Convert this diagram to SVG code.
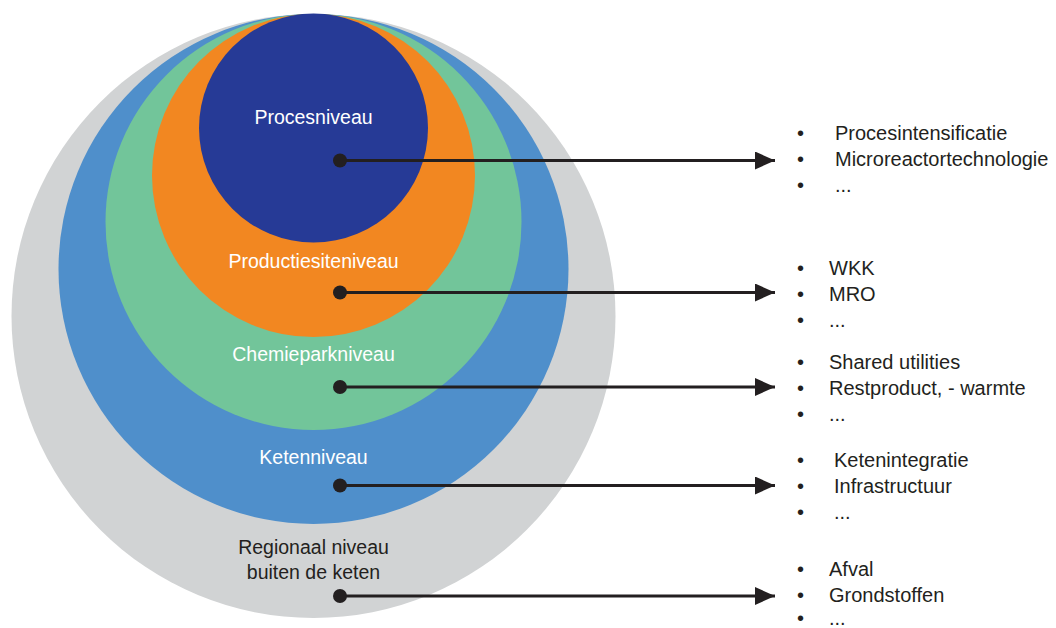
<svg xmlns="http://www.w3.org/2000/svg" width="1056" height="628" viewBox="0 0 1056 628">
<defs>
<style>
.lbl{font-family:"Liberation Sans",Arial,sans-serif;font-size:19.5px;text-anchor:middle;fill:#ffffff}
.dark{fill:#231f20}
.li{font-family:"Liberation Sans",Arial,sans-serif;font-size:20px;fill:#231f20}
.conn{stroke:#231f20;stroke-width:3.2;fill:none}
.dot{fill:#231f20}
</style>
<marker id="ah" markerUnits="userSpaceOnUse" markerWidth="22" markerHeight="20" refX="20" refY="9" orient="auto">
<path d="M0,0 L20,9 L0,18 Z" fill="#231f20"/>
</marker>
</defs>
<rect width="1056" height="628" fill="#ffffff"/>
<g id="regionaal">
<circle cx="313.5" cy="316" r="302" fill="#d1d3d4"/>
</g>
<g id="keten">
<circle cx="313.5" cy="269" r="255" fill="#4f8fcb"/>
</g>
<g id="chemiepark">
<circle cx="313.5" cy="222" r="208" fill="#72c59a"/>
</g>
<g id="productiesite">
<circle cx="313.5" cy="175.5" r="161.5" fill="#f28721"/>
</g>
<g id="proces">
<circle cx="313.5" cy="128" r="114.5" fill="#263a96"/>
</g>
<g id="labels">
<text class="lbl" x="313.5" y="124">Procesniveau</text>
<text class="lbl" x="313.5" y="268">Productiesiteniveau</text>
<text class="lbl" x="313.5" y="361">Chemieparkniveau</text>
<text class="lbl" x="313.5" y="464">Ketenniveau</text>
<text class="lbl dark" x="313.5" y="554">Regionaal niveau</text>
<text class="lbl dark" x="313.5" y="579">buiten de keten</text>
</g>
<g id="connectors">
<line class="conn" x1="340" y1="160.5" x2="775" y2="160.5" marker-end="url(#ah)"/>
<line class="conn" x1="340" y1="292.5" x2="775" y2="292.5" marker-end="url(#ah)"/>
<line class="conn" x1="340" y1="387" x2="775" y2="387" marker-end="url(#ah)"/>
<line class="conn" x1="340" y1="485.5" x2="775" y2="485.5" marker-end="url(#ah)"/>
<line class="conn" x1="340" y1="596" x2="775" y2="596" marker-end="url(#ah)"/>
<circle class="dot" cx="340" cy="160.5" r="7"/>
<circle class="dot" cx="340" cy="292.5" r="7"/>
<circle class="dot" cx="340" cy="387" r="7"/>
<circle class="dot" cx="340" cy="485.5" r="7"/>
<circle class="dot" cx="340" cy="596" r="7"/>
</g>
<g id="list-proces">
<text class="li" x="797" y="140">•</text><text class="li" x="835" y="140">Procesintensificatie</text>
<text class="li" x="797" y="166">•</text><text class="li" x="835" y="166">Microreactortechnologie</text>
<text class="li" x="797" y="192">•</text><text class="li" x="835" y="192">...</text>
</g>
<g id="list-productiesite">
<text class="li" x="797" y="275">•</text><text class="li" x="829" y="275">WKK</text>
<text class="li" x="797" y="301">•</text><text class="li" x="829" y="301">MRO</text>
<text class="li" x="797" y="327">•</text><text class="li" x="829" y="327">...</text>
</g>
<g id="list-chemiepark">
<text class="li" x="797" y="369">•</text><text class="li" x="829" y="369">Shared utilities</text>
<text class="li" x="797" y="395">•</text><text class="li" x="829" y="395">Restproduct, - warmte</text>
<text class="li" x="797" y="421">•</text><text class="li" x="829" y="421">...</text>
</g>
<g id="list-keten">
<text class="li" x="797" y="467">•</text><text class="li" x="834" y="467">Ketenintegratie</text>
<text class="li" x="797" y="493">•</text><text class="li" x="834" y="493">Infrastructuur</text>
<text class="li" x="797" y="519">•</text><text class="li" x="834" y="519">...</text>
</g>
<g id="list-regionaal">
<text class="li" x="797" y="576">•</text><text class="li" x="829" y="576">Afval</text>
<text class="li" x="797" y="602">•</text><text class="li" x="829" y="602">Grondstoffen</text>
<text class="li" x="797" y="625">•</text><text class="li" x="829" y="625">...</text>
</g>
</svg>
